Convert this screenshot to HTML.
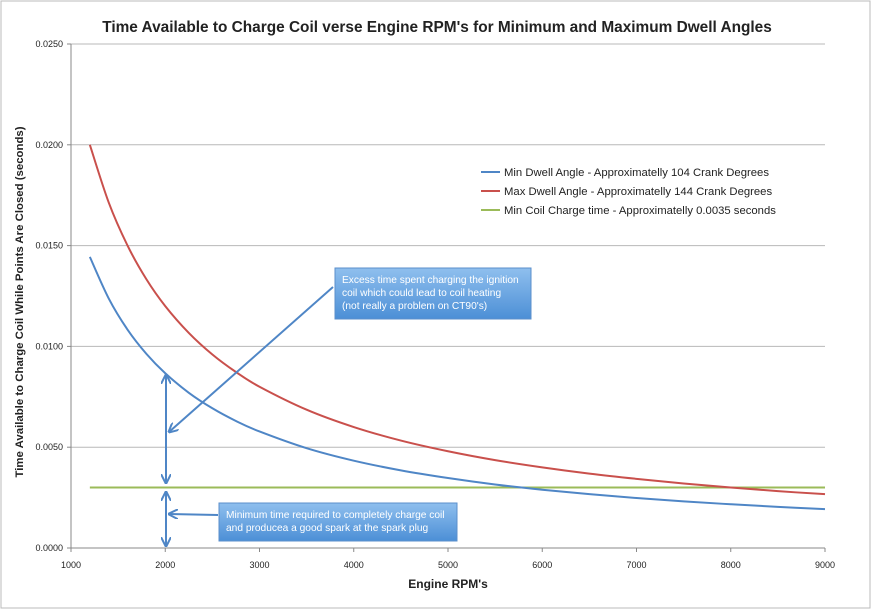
<!DOCTYPE html>
<html><head><meta charset="utf-8"><style>
body{margin:0;background:#fff;}
svg{font-family:"Liberation Sans",sans-serif;display:block;}
</style></head><body>
<svg width="871" height="609" viewBox="0 0 871 609">
<defs>
<linearGradient id="cg" x1="0" y1="0" x2="0" y2="1"><stop offset="0" stop-color="#8fbfee"/><stop offset="1" stop-color="#4c8fd6"/></linearGradient>
<marker id="ah" viewBox="0 0 10 10" refX="9" refY="5" markerWidth="5" markerHeight="5" orient="auto-start-reverse"><path d="M0,0 L10,5 L0,10" fill="none" stroke="#4f86c6" stroke-width="2"/></marker>
</defs>
<rect x="1" y="1" width="869" height="607" fill="#fff" stroke="#bbb"/>
<text x="437" y="32" text-anchor="middle" font-size="15.4" font-weight="bold" fill="#222">Time Available to Charge Coil verse Engine RPM's for Minimum and Maximum Dwell Angles</text>
<g id="grid"></g><g id="axes"></g><g id="series"></g>
<text x="448" y="588" text-anchor="middle" font-size="12" font-weight="bold" fill="#222">Engine RPM's</text>
<text transform="translate(23,302) rotate(-90)" text-anchor="middle" font-size="11.4" font-weight="bold" fill="#222">Time Available to Charge Coil While Points Are Closed (seconds)</text>
<g font-size="11.3" fill="#222">
<g><line x1="481" y1="172" x2="500" y2="172" stroke="#4f86c6" stroke-width="2"/><text x="504" y="176">Min Dwell Angle - Approximatelly 104 Crank Degrees</text></g>
<g><line x1="481" y1="191" x2="500" y2="191" stroke="#c9504c" stroke-width="2"/><text x="504" y="195">Max Dwell Angle - Approximatelly 144 Crank Degrees</text></g>
<g><line x1="481" y1="210" x2="500" y2="210" stroke="#9bbb59" stroke-width="2"/><text x="504" y="214">Min Coil Charge time - Approximatelly 0.0035 seconds</text></g>
</g>
<g stroke="#4f86c6" stroke-width="2" fill="none">
<line x1="166" y1="375" x2="166" y2="483" marker-start="url(#ah)" marker-end="url(#ah)"/>
<line x1="166" y1="492" x2="166" y2="546" marker-start="url(#ah)" marker-end="url(#ah)"/>
<line x1="333" y1="287" x2="169" y2="432" marker-end="url(#ah)"/>
<line x1="218" y1="515" x2="169" y2="514" marker-end="url(#ah)"/>
</g>
<g>
<rect x="335" y="268" width="196" height="51" fill="url(#cg)" stroke="#5b8fcb"/>
<text font-size="10.2" fill="#fff"><tspan x="342" y="283">Excess time spent charging the ignition</tspan><tspan x="342" y="296">coil which could lead to coil heating</tspan><tspan x="342" y="309">(not really a problem on CT90's)</tspan></text>
</g>
<g>
<rect x="219" y="503" width="238" height="38" fill="url(#cg)" stroke="#5b8fcb"/>
<text font-size="10.2" fill="#fff"><tspan x="226" y="518">Minimum time required to completely charge coil</tspan><tspan x="226" y="531">and producea a good spark at the spark plug</tspan></text>
</g>
</svg>
<script>
const rpm=[1200,1400,1600,1800,2000,2250,2500,2750,3000,3500,4000,4500,5000,5500,6000,6500,7000,7500,8000,8500,9000];
const minDwell=[0.01444,0.01238,0.01083,0.00963,0.00867,0.00770,0.00693,0.00630,0.00578,0.00495,0.00433,0.00385,0.00347,0.00315,0.00289,0.00267,0.00248,0.00231,0.00217,0.00204,0.00193];
const maxDwell=[0.0200,0.01714,0.0150,0.01333,0.0120,0.01067,0.0096,0.00873,0.0080,0.00686,0.0060,0.00533,0.0048,0.00436,0.0040,0.00369,0.00343,0.0032,0.0030,0.00282,0.00267];
const chargeRpm=[1200,9000];
const chargeTime=[0.003,0.003];
const xTicks=[1000,2000,3000,4000,5000,6000,7000,8000,9000];
const yTicks=[0,0.005,0.010,0.015,0.020,0.025];
const NS="http://www.w3.org/2000/svg";
const X0=71,X1=825,Y0=548,Y1=44;
const xs=v=>X0+(v-1000)/8000*(X1-X0);
const ys=v=>Y0-v/0.025*(Y0-Y1);
function mk(t,a,p){const e=document.createElementNS(NS,t);for(const k in a)e.setAttribute(k,a[k]);p.appendChild(e);return e;}
const grid=document.getElementById('grid'),axes=document.getElementById('axes'),ser=document.getElementById('series');
yTicks.forEach(v=>{
 if(v>0){const g=mk('line',{x1:X0,x2:X1,y1:ys(v),y2:ys(v),stroke:'#b8b8b8'},grid);
 
 }
 const t=mk('text',{x:63,y:ys(v)+3,'text-anchor':'end','font-size':9,fill:'#222'},axes);t.textContent=v.toFixed(4);
 
 
 mk('line',{x1:X0-4,x2:X0,y1:ys(v),y2:ys(v),stroke:'#888'},axes);
});
xTicks.forEach(v=>{
 mk('line',{x1:xs(v),x2:xs(v),y1:Y0,y2:Y0+4,stroke:'#888'},axes);
 const t=mk('text',{x:xs(v),y:Y0+20,'text-anchor':'middle','font-size':9,fill:'#222'},axes);t.textContent=v;
 
 
});
mk('line',{x1:X0,x2:X0,y1:Y1,y2:Y0,stroke:'#888'},axes);
mk('line',{x1:X0,x2:X1,y1:Y0,y2:Y0,stroke:'#888'},axes);
function line(xv,yv,c,name){
 const P=xv.map((x,i)=>[xs(x),ys(yv[i])]);
 let d='M'+P[0][0]+','+P[0][1];
 for(let i=0;i<P.length-1;i++){
  const p0=P[i-1]||P[i],p1=P[i],p2=P[i+1],p3=P[i+2]||P[i+1];
  d+=' C'+(p1[0]+(p2[0]-p0[0])/6)+','+(p1[1]+(p2[1]-p0[1])/6)+' '+(p2[0]-(p3[0]-p1[0])/6)+','+(p2[1]-(p3[1]-p1[1])/6)+' '+p2[0]+','+p2[1];
 }
 const p=mk('path',{d:d,fill:'none',stroke:c,'stroke-width':2},ser);
 
 
}
line(chargeRpm,chargeTime,'#9bbb59','min-charge-line');
line(rpm,maxDwell,'#c9504c','max-dwell-line');
line(rpm,minDwell,'#4f86c6','min-dwell-line');
</script>
</body></html>
